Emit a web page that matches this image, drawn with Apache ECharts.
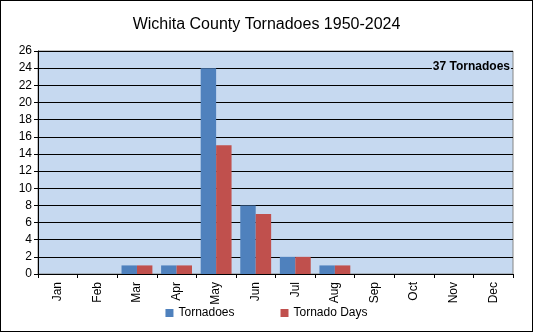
<!DOCTYPE html>
<html><head><meta charset="utf-8">
<script src="https://cdn.jsdelivr.net/npm/echarts@6/dist/echarts.min.js"></script>
<style>html,body{margin:0;padding:0;background:#fff}#w{position:relative;width:533px;height:332px}#c{width:533px;height:332px}#b{position:absolute;left:0;top:0;width:533px;height:332px;box-sizing:border-box;border:1px solid #000;pointer-events:none}</style>
</head><body><div id="w"><div id="c"></div><div id="b"></div></div>
<script>
const months = ['Jan','Feb','Mar','Apr','May','Jun','Jul','Aug','Sep','Oct','Nov','Dec'];
const tornadoes = [0,0,1,1,24,8,2,1,0,0,0,0];
const tornadoDays = [0,0,1,1,15,7,2,1,0,0,0,0];
const annotation = '37 Tornadoes';
const chart = echarts.init(document.getElementById('c'));
const font = 'Liberation Sans, Arial, sans-serif';
chart.setOption({
  animation:false,
  title:{text:'Wichita County Tornadoes 1950-2024',left:'center',top:12,textStyle:{fontFamily:font,fontSize:16,fontWeight:'normal',color:'#000'}},
  grid:{left:38,right:20,top:51,bottom:58,show:true,backgroundColor:'#C6D9F0',borderColor:'#868686',borderWidth:1},
  legend:{bottom:8,left:'center',itemWidth:8,itemHeight:8,itemGap:46,icon:'rect',textStyle:{fontFamily:font,fontSize:12,color:'#000'},data:['Tornadoes','Tornado Days']},
  xAxis:{type:'category',data:months,axisLine:{lineStyle:{color:'#000'}},axisTick:{show:true,alignWithLabel:false,length:4,lineStyle:{color:'#000'}},
    axisLabel:{rotate:90,fontFamily:font,fontSize:12,color:'#000',margin:8}},
  yAxis:{type:'value',min:0,max:26,interval:2,axisLine:{show:true,lineStyle:{color:'#000'}},axisTick:{show:true,length:4,lineStyle:{color:'#000'}},
    splitLine:{lineStyle:{color:'#000',width:1}},axisLabel:{fontFamily:font,fontSize:12,color:'#000',margin:6}},
  graphic:[{type:'text',right:22,top:61,z:100,style:{text:annotation,fontFamily:font,fontSize:12,fontWeight:'bold',fill:'#000',backgroundColor:'#C6D9F0',padding:[0,1]}}],
  series:[
    {name:'Tornadoes',type:'bar',data:tornadoes,barGap:'0%',barCategoryGap:'22%',itemStyle:{color:'#4F81BD'}},
    {name:'Tornado Days',type:'bar',data:tornadoDays,itemStyle:{color:'#C0504D'}}
  ]
});
</script></body></html>
